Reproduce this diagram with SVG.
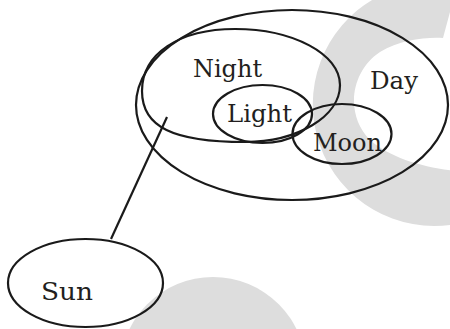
<svg xmlns="http://www.w3.org/2000/svg" width="450" height="329" viewBox="0 0 450 329">
  <style>
    .set { fill: none; stroke: #1a1a1a; stroke-width: 2.2; }
    .lbl { font-family: "DejaVu Serif", "Liberation Serif", serif; font-size: 24px; fill: #231f20; }
    .wm { fill: #dddddd; stroke: none; }
    .conn { stroke: #1a1a1a; stroke-width: 2.2; fill: none; }
  </style>
  <rect width="450" height="329" fill="#ffffff"/>
  <g id="watermark">
    <path class="wm" d="M 443 38 L 457.3 -15 A 121.6 121.6 0 1 0 527.6 182.5 L 480 172 C 440 172 395 162 370 140 C 345 115 350 72 380 52 C 400 40 425 37 443 38 Z"/>
    <circle class="wm" cx="213" cy="370" r="93"/>
  </g>
  <g id="connectors">
    <line class="conn" x1="167" y1="117" x2="111" y2="239"/>
  </g>
  <g id="day">
    <ellipse class="set" cx="292" cy="105" rx="156" ry="95"/>
    <text class="lbl" x="370" y="89" textLength="48" lengthAdjust="spacingAndGlyphs">Day</text>
  </g>
  <g id="night">
    <path class="set" d="M 142 91 C 142 54 179 29 235 29 C 293 29 340 54 340 85 C 340 116.5 297.5 142 245 142 C 173 142 142 127 142 91 Z"/>
    <text class="lbl" x="193" y="77" textLength="69" lengthAdjust="spacingAndGlyphs">Night</text>
  </g>
  <g id="light">
    <ellipse class="set" cx="262.5" cy="114" rx="49.5" ry="29"/>
    <text class="lbl" x="227" y="122" textLength="65" lengthAdjust="spacingAndGlyphs">Light</text>
  </g>
  <g id="moon">
    <ellipse class="set" cx="342" cy="134" rx="49.5" ry="30"/>
    <text class="lbl" x="313" y="151" textLength="69" lengthAdjust="spacingAndGlyphs">Moon</text>
  </g>
  <g id="sun">
    <ellipse class="set" cx="85.5" cy="283" rx="77.5" ry="44"/>
    <text class="lbl" x="41" y="300" textLength="52" lengthAdjust="spacingAndGlyphs">Sun</text>
  </g>
</svg>
